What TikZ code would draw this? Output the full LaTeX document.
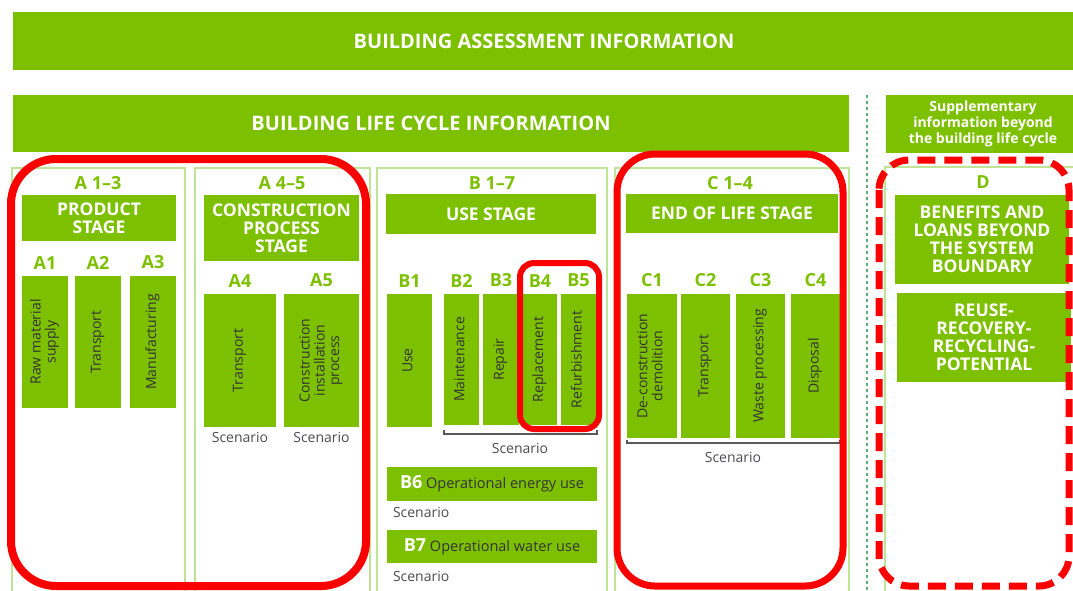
\documentclass[tikz,border=0pt]{standalone}
\usepackage{fontspec}
\setmainfont{Open Sans}
\usetikzlibrary{positioning}
\definecolor{stagegreen}{RGB}{125,192,0}
\definecolor{framegreen}{RGB}{192,228,150}
\definecolor{markred}{RGB}{250,0,0}
\definecolor{sepgreen}{RGB}{90,172,120}
\definecolor{scentext}{RGB}{75,75,85}
\newcommand{\vtext}[1]{\rotatebox{90}{\begin{tabular}{@{}c@{}}#1\end{tabular}}}
\begin{document}
\begin{tikzpicture}[x=1pt,y=-1pt,
                    every node/.style={inner sep=0pt,outer sep=0pt},
                    ]
    \tikzstyle{banner}=[anchor=north west,fill=stagegreen,text=white,align=center,font=\bfseries\fontsize{20}{22}\selectfont]
    \tikzstyle{stage}=[banner,font=\bfseries\fontsize{17.5}{18}\selectfont]
    \tikzstyle{column}=[anchor=north west,draw=framegreen,line width=1.5pt]
    \tikzstyle{code}=[text=stagegreen,font=\bfseries\fontsize{18}{18}\selectfont]
    \tikzstyle{module}=[anchor=north west,fill=stagegreen,text=black!80,font=\fontsize{14}{14.5}\selectfont]
    \tikzstyle{scenario}=[text=scentext,font=\fontsize{14}{14}\selectfont]
    \tikzstyle{bracket}=[draw=black!65,line width=1.3pt]
    \tikzstyle{ring}=[draw=markred,line width=7pt]

    \clip (0,0) rectangle (1073,590);

    % headers
    \node[banner,minimum width=1062,minimum height=58] (assess) at (13,12) {BUILDING ASSESSMENT INFORMATION};
    \node[banner,minimum width=836,minimum height=57] (cycle) at (13,95) {BUILDING LIFE CYCLE INFORMATION};
    \node[banner,minimum width=194,minimum height=58,font=\bfseries\fontsize{14}{16}\selectfont] (supp) at (886,95)
        {Supplementary\\information beyond\\the building life cycle};
    \draw[sepgreen,line width=1.6pt,dash pattern=on 3pt off 3pt] (867,95) -- (867,590);

    % column frames
    \node[column,minimum width=173,minimum height=440] (colA) at (12,168) {};
    \node[column,minimum width=175,minimum height=440] (colAA) at (195,168) {};
    \node[column,minimum width=230,minimum height=440] (colB) at (377,168) {};
    \node[column,minimum width=234,minimum height=440] (colC) at (615,168) {};
    \node[column,minimum width=200,minimum height=440] (colD) at (885,167) {};

    % A 1-3
    \node[code] (prodcode) at (98,183) {A 1–3};
    \node[stage,minimum width=154,minimum height=46] (prod) at (22,195) {PRODUCT\\STAGE};
    \node[module,minimum width=46,minimum height=132] (A1) at (22,276) {\vtext{Raw material\\supply}};
    \node[module,minimum width=46,minimum height=132] (A2) at (75,276) {\vtext{Transport}};
    \node[module,minimum width=46,minimum height=132] (A3) at (130,276) {\vtext{Manufacturing}};
    \node[code,above=7pt of A1] (A1c) {A1};
    \node[code,above=7pt of A2] (A2c) {A2};
    \node[code,above=7pt of A3] (A3c) {A3};

    % A 4-5
    \node[code] (constcode) at (282,183) {A 4–5};
    \node[stage,minimum width=155,minimum height=66] (const) at (204,195) {CONSTRUCTION\\PROCESS\\STAGE};
    \node[module,minimum width=72,minimum height=133] (A4) at (204,294) {\vtext{Transport}};
    \node[module,minimum width=75,minimum height=133] (A5) at (284,294) {\vtext{Construction\\installation\\process}};
    \node[code,above=7pt of A4] (A4c) {A4};
    \node[code,above=7pt of A5] (A5c) {A5};
    \node[scenario,below=5pt of A4] (A4s) {Scenario};
    \node[scenario,below=5pt of A5] (A5s) {Scenario};

    % B 1-7
    \node[code] (usecode) at (492,183) {B 1–7};
    \node[stage,minimum width=210,minimum height=40] (use) at (386,194) {USE STAGE};
    \node[module,minimum width=45,minimum height=133] (B1) at (387,294) {\vtext{Use}};
    \node[module,minimum width=35,minimum height=131] (B2) at (444,294) {\vtext{Maintenance}};
    \node[module,minimum width=36,minimum height=131] (B3) at (483,294) {\vtext{Repair}};
    \node[module,minimum width=34,minimum height=131] (B4) at (523,294) {\vtext{Replacement}};
    \node[module,minimum width=35,minimum height=131] (B5) at (561,294) {\vtext{Refurbishment}};
    \node[code,above=7pt of B1] (B1c) {B1};
    \node[code,above=7pt of B2] (B2c) {B2};
    \node[code,above=7pt of B3] (B3c) {B3};
    \node[code,above=7pt of B4] (B4c) {B4};
    \node[code,above=7pt of B5] (B5c) {B5};
    \draw[bracket] ([yshift=-5pt]B2.south west) -- ++(0,-4pt) -| ([xshift=1pt,yshift=-5pt]B5.south east);
    \node[scenario] (Bs) at (520,448) {Scenario};
    \node[module,minimum width=210,minimum height=34,font=\fontsize{14.5}{15}\selectfont] (B6) at (387,467)
        {{\color{white}\bfseries\fontsize{18}{18}\selectfont B6} Operational energy use};
    \node[scenario,anchor=west] (B6s) at (393,512) {Scenario};
    \node[module,minimum width=210,minimum height=33,font=\fontsize{14.5}{15}\selectfont] (B7) at (387,530)
        {{\color{white}\bfseries\fontsize{18}{18}\selectfont B7} Operational water use};
    \node[scenario,anchor=west] (B7s) at (393,576) {Scenario};

    % C 1-4
    \node[code] (endcode) at (730,183) {C 1–4};
    \node[stage,minimum width=212,minimum height=39] (end) at (626,194) {END OF LIFE STAGE};
    \node[module,minimum width=50,minimum height=144] (C1) at (627,294) {\vtext{De-construction\\demolition}};
    \node[module,minimum width=49,minimum height=144] (C2) at (681,294) {\vtext{Transport}};
    \node[module,minimum width=49,minimum height=144] (C3) at (736,294) {\vtext{Waste processing}};
    \node[module,minimum width=49,minimum height=144] (C4) at (791,294) {\vtext{Disposal}};
    \node[code,above=7pt of C1] (C1c) {C1};
    \node[code,above=7pt of C2] (C2c) {C2};
    \node[code,above=7pt of C3] (C3c) {C3};
    \node[code,above=7pt of C4] (C4c) {C4};
    \draw[bracket] ([yshift=-2pt]C1.south west) -- ++(0,-3pt) -| ([yshift=-2pt]C4.south east);
    \node[scenario] (Cs) at (733,457) {Scenario};

    % D
    \node[code] (dcode) at (983,182) {D};
    \node[stage,minimum width=174,minimum height=89] (benefit) at (895,195) {BENEFITS AND\\LOANS BEYOND\\THE SYSTEM\\BOUNDARY};
    \node[stage,minimum width=174,minimum height=89] (reuse) at (897,293) {REUSE-\\RECOVERY-\\RECYCLING-\\POTENTIAL};

    % red marks
    \draw[ring,line width=8pt,rounded corners=45pt] (11,159) rectangle (366,586);
    \draw[ring,rounded corners=38pt] (617,154) rectangle (843,586);
    \draw[ring,line width=6pt,rounded corners=14pt] (520,263) rectangle (599,429);
    \draw[ring,rounded corners=30pt,dash pattern=on 18pt off 9pt] (879,160) rectangle (1069,586);
\end{tikzpicture}
\end{document}
